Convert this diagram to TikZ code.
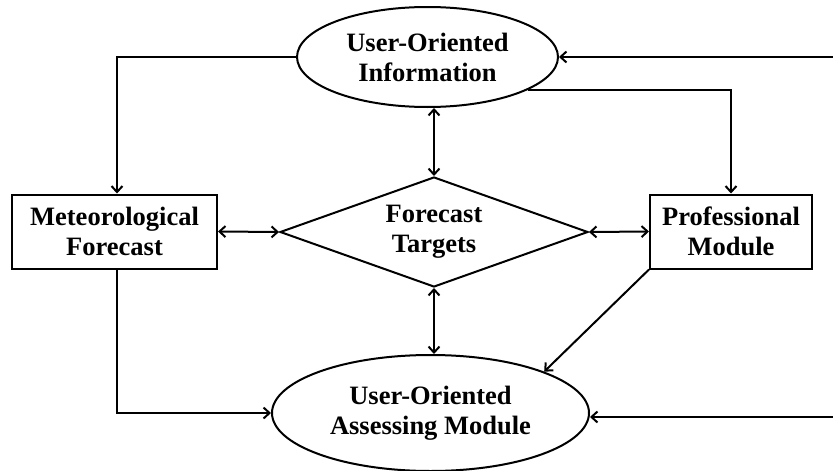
\documentclass[tikz,border=0pt]{standalone}
\usepackage{fontspec}
\setmainfont{Liberation Serif}
\usetikzlibrary{shapes.geometric,arrows.meta}
\tikzset{
  base/.style={draw=black,line width=2pt,font=\fontsize{26.5}{30}\selectfont\bfseries,align=center,inner sep=0pt},
  oval/.style={base,ellipse},
  boxnode/.style={base,rectangle},
  dia/.style={base,diamond,shape aspect=2.8},
  conn/.style={line width=2pt,-{Straight Barb[length=6pt,width=11pt,line width=2pt]}},
  bconn/.style={line width=2pt,{Straight Barb[length=6pt,width=11pt,line width=2pt]}-{Straight Barb[length=6pt,width=11pt,line width=2pt]}}
}
\begin{document}
\begin{tikzpicture}[x=1pt,y=-1pt]
\useasboundingbox (0,0) rectangle (833,471);
\node[oval,minimum width=261pt,minimum height=100pt] (ue) at (427.5,57) {User-Oriented\\Information};
\node[dia,minimum width=308pt,minimum height=110pt] (dt) at (434,232) {Forecast\\Targets};
\node[boxnode,minimum width=205pt,minimum height=74pt] (mf) at (114.5,231.5) {Meteorological\\Forecast};
\node[boxnode,minimum width=162pt,minimum height=74pt] (pm) at (731,231.5) {Professional\\Module};
\node[oval,minimum width=317pt,minimum height=116pt] (ae) at (430.5,413) {User-Oriented\\Assessing Module};
\coordinate (rt) at (833,57);
\coordinate (rb) at (833,417);
\draw[conn] (ue.west) -| ([xshift=2.5pt]mf.north);
\draw[conn] (rt) -- (ue.east);
\draw[conn] (ue.-18) -| (pm.north);
\draw[bconn] (dt.north |- ue.south) -- (dt.north);
\draw[bconn] (mf.east) -- (dt.west);
\draw[bconn] (dt.east) -- (pm.west);
\draw[bconn] (dt.south) -- (dt.south |- ae.north);
\draw[conn] (pm.south west) -- (ae.20);
\draw[conn] ([xshift=2.5pt]mf.south) |- (ae.west);
\draw[conn] (rb) -- (rb -| ae.east);
\end{tikzpicture}
\end{document}
